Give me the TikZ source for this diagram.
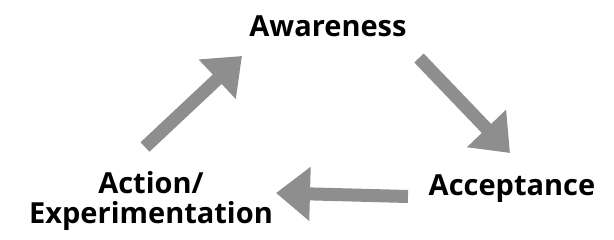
\documentclass[tikz,border=0pt]{standalone}
\usepackage{fontspec}
\setsansfont{Open Sans}
\usetikzlibrary{arrows.meta,positioning}
\definecolor{arrowgray}{RGB}{142,142,142}
\tikzset{
  stage/.style={font=\sffamily\bfseries\fontsize{29}{30}\selectfont,anchor=base,align=center,inner sep=0pt},
  cyclearrow/.style={draw=arrowgray,line width=13pt,-{Triangle[length=34pt,width=52pt,fill=arrowgray]}}
}

\begin{document}
\begin{tikzpicture}[x=1pt,y=-1pt]
\useasboundingbox (0,0) rectangle (614,240);
\node[stage] (aware) at (328,37) {Awareness};
\node[stage] (accept) at (512,196) {Acceptance};
\node[stage] (action) at (151,224) {Action/\\Experimentation};
% arrow ends, kept clear of the labels
\coordinate (action-out) at (145,147);
\coordinate (aware-in) at (242,56);
\coordinate (aware-out) at (419,58);
\coordinate (accept-in) at (510,153);
\coordinate (accept-out) at (408,196.5);
\coordinate (action-in) at (276,193);
\draw[cyclearrow] (action-out) -- (aware-in);
\draw[cyclearrow] (aware-out) -- (accept-in);
\draw[cyclearrow] (accept-out) -- (action-in);
\end{tikzpicture}
\end{document}
